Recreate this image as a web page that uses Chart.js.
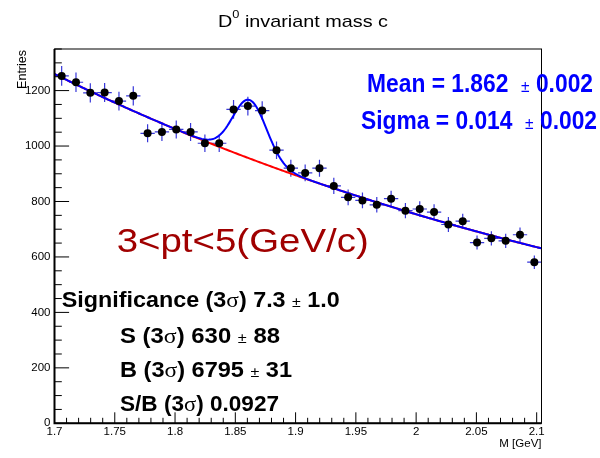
<!DOCTYPE html>
<html><head><meta charset="utf-8">
<script src="https://cdn.jsdelivr.net/npm/chart.js@4.4.1/dist/chart.umd.min.js"></script>
<style>html,body{margin:0;padding:0;background:#fff;}canvas{display:block;}</style>
</head><body>
<canvas id="c" width="600" height="458"></canvas>
<script>
// ---- data ----
const histLow = 1.7;
const histHigh = 2.104;
const counts = [1253,1230,1192,1193,1162,1181,1046,1051,1060,1051,1010,1010,1132,1144,1128,985,920,903,920,856,815,804,788,810,767,773,762,717,729,652,667,658,680,581];
const xTicks = [1.7,1.75,1.8,1.85,1.9,1.95,2.0,2.05,2.1];
const xTickLabels = ['1.7','1.75','1.8','1.85','1.9','1.95','2','2.05','2.1'];
const yTicks = [0,200,400,600,800,1000,1200];
const yTickLabels = ['0','200','400','600','800','1000','1200'];
// fit parameters (expo background + gaussian)
const bkgAtLow = 1260;
const bkgSlope = -1.712;
const gausAmp = 211;
const gausMean = 1.862;
const gausSigma = 0.014;

const nBins = counts.length;
const binW = (histHigh - histLow) / nBins;
const points = counts.map((c,i)=>({x: histLow + (i+0.5)*binW, y: c, ex: binW/2, ey: Math.sqrt(c)}));
const bkg = x => bkgAtLow*Math.exp(bkgSlope*(x-histLow));
const total = x => bkg(x) + gausAmp*Math.exp(-0.5*((x-gausMean)/gausSigma)**2);
const nS = 400;
const xs = Array.from({length:nS+1},(_,k)=>histLow + k*(histHigh-histLow)/nS);
const blueCurve = xs.map(x=>({x, y: total(x)}));
const redCurve = xs.map(x=>({x, y: bkg(x)}));

const F = 'Liberation Sans';
function drawRich(ctx, segs, x, y, color, targetW){
  ctx.save();
  let w = 0;
  segs.forEach(s=>{ctx.font=s.f; s.w=ctx.measureText(s.t).width; w+=s.w;});
  ctx.translate(x,y);
  if (targetW) ctx.scale(targetW/w,1);
  ctx.fillStyle=color; ctx.textBaseline='alphabetic'; ctx.textAlign='left';
  let cx=0;
  segs.forEach(s=>{ctx.font=s.f; ctx.fillText(s.t,cx,s.dy||0); cx+=s.w;});
  ctx.restore();
}

const rootPlugin = {
  id:'rootStyle',
  beforeDatasetsDraw(chart){
    const {ctx, scales:{x,y}} = chart;
    ctx.save();
    ctx.strokeStyle='rgba(20,20,210,0.85)'; ctx.lineWidth=1.2;
    ctx.beginPath();
    points.forEach(p=>{
      const px=x.getPixelForValue(p.x), py=y.getPixelForValue(p.y);
      ctx.moveTo(x.getPixelForValue(p.x-p.ex),py); ctx.lineTo(x.getPixelForValue(p.x+p.ex),py);
      ctx.moveTo(px,y.getPixelForValue(p.y-p.ey)); ctx.lineTo(px,y.getPixelForValue(p.y+p.ey));
    });
    ctx.stroke();
    ctx.restore();
  },
  afterDraw(chart){
    const {ctx, chartArea:a, scales:{x,y}} = chart;
    ctx.save();
    ctx.strokeStyle='#000'; ctx.lineWidth=1;
    ctx.beginPath();
    for(let k=0;k<=40;k++){
      const px=x.getPixelForValue(1.7+k*0.01);
      const len = k%5===0 ? 11 : 5.5;
      ctx.moveTo(px,a.bottom); ctx.lineTo(px,a.bottom-len);
    }
    for(let k=0;k<=27;k++){
      const py=y.getPixelForValue(k*50);
      const len = k%4===0 ? 14.6 : 7.3;
      ctx.moveTo(a.left,py); ctx.lineTo(a.left+len,py);
    }
    ctx.stroke();
    ctx.strokeRect(a.left,a.top,a.right-a.left,a.bottom-a.top);
    ctx.lineWidth=2;
    ctx.beginPath(); ctx.moveTo(a.left,a.top); ctx.lineTo(a.left,a.bottom); ctx.lineTo(a.right,a.bottom); ctx.stroke();
    ctx.restore();

    // title
    drawRich(ctx,[{t:'D',f:`17px "${F}"`},{t:'0',f:`11px "${F}"`,dy:-9},{t:' invariant mass c',f:`17px "${F}"`}],218,26.7,'#000',170);
    // axis titles
    ctx.save();
    ctx.fillStyle='#000'; ctx.textAlign='right'; ctx.textBaseline='alphabetic';
    ctx.font=`11.5px "${F}"`;
    ctx.fillText('M [GeV]',541.5,447);
    ctx.font=`12.5px "${F}"`;
    ctx.translate(25.5,50); ctx.rotate(-Math.PI/2);
    ctx.fillText('Entries',0,0);
    ctx.restore();
    // fit results
    const B = s=>`bold ${s}px "${F}"`;
    const N = s=>`${s}px "${F}"`;
    const S = s=>`${s}px "Liberation Serif"`;
    drawRich(ctx,[{t:'Mean = 1.862  ',f:B(25)},{t:'±',f:N(17)},{t:' 0.002',f:B(25)}],367,92,'#0000ff',226);
    drawRich(ctx,[{t:'Sigma = 0.014  ',f:B(25)},{t:'±',f:N(17)},{t:' 0.002',f:B(25)}],361,129,'#0000ff',236);
    drawRich(ctx,[{t:'3<pt<5(GeV/c)',f:N(34)}],116.7,252,'rgb(160,0,0)',252);
    drawRich(ctx,[{t:'Significance (3',f:B(22)},{t:'σ',f:S(22)},{t:') 7.3 ',f:B(22)},{t:'±',f:N(15)},{t:' 1.0',f:B(22)}],61.7,306.7,'#000',278);
    drawRich(ctx,[{t:'S (3',f:B(22)},{t:'σ',f:S(22)},{t:') 630 ',f:B(22)},{t:'±',f:N(15)},{t:' 88',f:B(22)}],120,342.7,'#000',160);
    drawRich(ctx,[{t:'B (3',f:B(22)},{t:'σ',f:S(22)},{t:') 6795 ',f:B(22)},{t:'±',f:N(15)},{t:' 31',f:B(22)}],120,376.7,'#000',172);
    drawRich(ctx,[{t:'S/B (3',f:B(22)},{t:'σ',f:S(22)},{t:') 0.0927',f:B(22)}],120,410.7,'#000',159);
  }
};

new Chart(document.getElementById('c'),{
  type:'scatter',
  data:{datasets:[
    {label:'data', data:points, pointRadius:4, pointHoverRadius:4, pointBackgroundColor:'#000', pointBorderColor:'#000', pointBorderWidth:0, showLine:false},
    {label:'fit', data:blueCurve, showLine:true, pointRadius:0, borderColor:'#0000ff', borderWidth:2, tension:0},
    {label:'bkg', data:redCurve, showLine:true, pointRadius:0, borderColor:'#ff0000', borderWidth:2, tension:0}
  ]},
  options:{
    responsive:false, animation:false, devicePixelRatio:1,
    layout:{padding:{top:49,right:58.5,left:0,bottom:0}},
    plugins:{legend:{display:false}, tooltip:{enabled:false}, title:{display:false}},
    scales:{
      x:{type:'linear', min:histLow, max:histHigh,
        afterBuildTicks:s=>{s.ticks=xTicks.map(v=>({value:v}));},
        afterFit:s=>{s.height=34.7;},
        ticks:{callback:(v,i)=>xTickLabels[i], font:{family:F,size:11.5}, color:'#000', padding:2, maxRotation:0, autoSkip:false},
        grid:{display:false, drawTicks:false}, border:{display:false}},
      y:{type:'linear', min:0, max:1350,
        afterBuildTicks:s=>{s.ticks=yTicks.map(v=>({value:v}));},
        afterFit:s=>{s.width=54.5;},
        ticks:{callback:(v,i)=>yTickLabels[i], font:{family:F,size:11.5}, color:'#000', padding:4, autoSkip:false},
        grid:{display:false, drawTicks:false}, border:{display:false}}
    }
  },
  plugins:[rootPlugin]
});
</script>
</body></html>
